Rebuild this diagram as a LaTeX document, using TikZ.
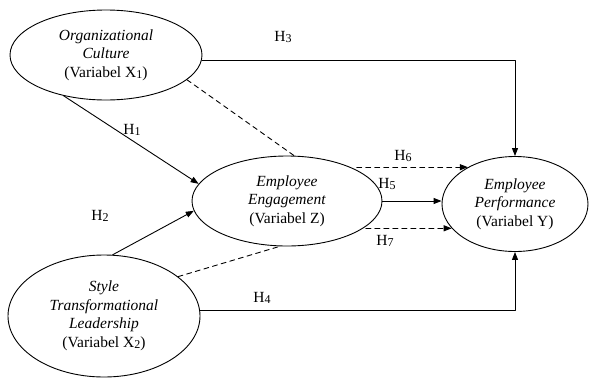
\documentclass[tikz,border=0pt]{standalone}
\usepackage{fontspec}
\setmainfont{Liberation Serif}
\usetikzlibrary{arrows.meta}
\usetikzlibrary{shapes.geometric}

\newcommand{\lowidx}[1]{\raisebox{-1.5pt}{\fontsize{12}{12}\selectfont #1}}

\begin{document}
\begin{tikzpicture}[line cap=round,line join=round,>={Triangle[length=8pt,width=6pt]},x=1pt,y=-1pt,
  latent/.style={ellipse,draw,line width=0.9pt,inner sep=0pt,align=center,font=\fontsize{15.5}{18.5}\selectfont},
  solidline/.style={line width=0.9pt},
  dashline/.style={line width=0.9pt,dash pattern=on 5pt off 4pt},
  hlabel/.style={font=\fontsize{15.5}{18.5}\selectfont}]
\useasboundingbox (0,0) rectangle (589,378);

% Variabel
\node[latent,minimum width=192,minimum height=90] (x1) at (106,55) {\textit{Organizational}\\\textit{Culture}\\(Variabel X\lowidx{1})};
\node[latent,minimum width=190,minimum height=90] (z) at (287,201) {\textit{Employee}\\\textit{Engagement}\\(Variabel Z)};
\node[latent,minimum width=146,minimum height=95] (y) at (515,204) {\textit{Employee}\\\textit{Performance}\\(Variabel Y)};
\node[latent,minimum width=192,minimum height=122] (x2) at (104,316) {\textit{Style}\\\textit{Transformational}\\\textit{Leadership}\\(Variabel X\lowidx{2})};

% Pfade
\draw[solidline,->] ([yshift=-5pt]x1.east) -| (y.north); % H3
\draw[dashline] (x1.343) -- (z.81);
\draw[solidline,->] (x1.224) -- (z.169); % H1
\draw[solidline,->] (x2.82) -- (z.186); % H2
\draw[dashline] (x2.28) -- (z.261);
\draw[solidline,->] ([yshift=6pt]x2.east) -| (y.south); % H4
\draw[dashline,->] (z.24 |- y.142) -- (y.142); % H6
\draw[solidline,->] (z.east) -- (z.east -| y.west); % H5
\draw[dashline,->] (z.342 |- y.201) -- (y.201); % H7

% Beschriftungen
\node[hlabel] (h1) at (132,130) {H\lowidx{1}};
\node[hlabel] (h2) at (100,216) {H\lowidx{2}};
\node[hlabel] (h3) at (283,37) {H\lowidx{3}};
\node[hlabel] (h4) at (262,298) {H\lowidx{4}};
\node[hlabel] (h5) at (387,184) {H\lowidx{5}};
\node[hlabel] (h6) at (403,156) {H\lowidx{6}};
\node[hlabel] (h7) at (385,241) {H\lowidx{7}};
\end{tikzpicture}
\end{document}
